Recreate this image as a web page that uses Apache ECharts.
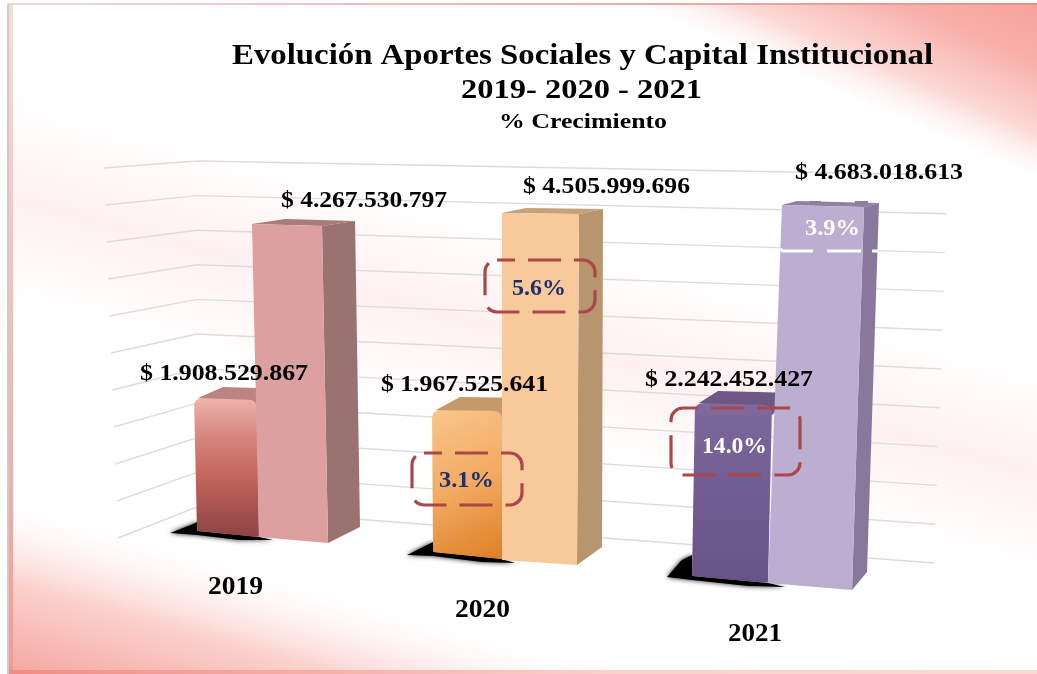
<!DOCTYPE html>
<html>
<head>
<meta charset="utf-8">
<script src="https://cdn.jsdelivr.net/npm/echarts@6/dist/echarts.min.js"></script>
<style>html,body{margin:0;padding:0;background:#fff}#c{width:1037px;height:674px}</style>
</head>
<body>
<div id="c"></div>
<script>
// ---------- data ----------
const years = ['2019', '2020', '2021'];
const frontSeries = [1908529867, 1967525641, 2242452427];
const backSeries = [4267530797, 4505999696, 4683018613];
const frontGrowth = [null, 3.1, 14.0];
const backGrowth = [null, 5.6, 3.9];
const wallTicks = [0, 5e8, 1e9, 1.5e9, 2e9, 2.5e9, 3e9, 3.5e9, 4e9, 4.5e9, 5e9];
const axisMax = 5e9;

// ---------- perspective layout of each bar ----------
const frontGeo = [
  {bx:197,by:531,w:62,ty:398,lean:-3,tw:63,sk:6,tsk:2,d:[29,-11],shH:9,shL:[-27,2],shR:[14,3]},
  {bx:433,by:552,w:69,ty:410,lean:-1,tw:70,sk:7,tsk:1,d:[28,-13],shH:10,shL:[-26,3],shR:[13,4]},
  {bx:692,by:576,w:76,ty:403,lean:3,tw:77,sk:7,tsk:2,d:[23,-12],shH:21,shL:[-25,1],shR:[17,4]}
];
const backGeo = [
  {bx:259,by:537,w:69,ty:224,lean:-7,tw:70,sk:6,tsk:2,d:[33,-5],db:[32,-16]},
  {bx:502,by:560,w:75,ty:213,lean:0,tw:77,sk:5,tsk:1,d:[24,-5],db:[25,-18]},
  {bx:768,by:583,w:84,ty:205,lean:14,tw:82,sk:7,tsk:2,d:[15,-4],db:[15,-18]}
];
const frontFill = [
  new echarts.graphic.LinearGradient(0,0,0,1,[{offset:0,color:'#eeb4ac'},{offset:.1,color:'#e4a39b'},{offset:.25,color:'#d98a81'},{offset:.55,color:'#c4675f'},{offset:1,color:'#8e4343'}]),
  new echarts.graphic.LinearGradient(0,0,1,1,[{offset:0,color:'#f9c68c'},{offset:.5,color:'#f3aa62'},{offset:1,color:'#dc7f24'}]),
  new echarts.graphic.LinearGradient(0,0,0,1,[{offset:0,color:'#82699f'},{offset:.08,color:'#7b6699'},{offset:.5,color:'#715d93'},{offset:1,color:'#675385'}])
];
const frontTop = ['#bb8482', '#c69a68', '#6c5787'];
const backColors = [
  {front:'#dba09f', side:'#9a7270', top:'#a97b79'},
  {front:'#f8c99b', side:'#b8946f', top:'#c6a078'},
  {front:'#bcaed0', side:'#88799c', top:'#8f80a6'}
];
const SERIF = '"Liberation Serif","Times New Roman",serif';

// ---------- helpers ----------
const mctx = document.createElement('canvas').getContext('2d');
function fit(text, size, left, right, cy, color) {
  mctx.font = 'bold ' + size + 'px "Liberation Serif"';
  const natural = mctx.measureText(text).width;
  return {
    type:'text', z:50, silent:true, x:(left+right)/2, y:cy+1.5, scaleX:(right-left)/natural,
    style:{text:text, x:0, y:0, align:'center', verticalAlign:'middle', fontFamily:SERIF,
      fontWeight:'bold', fontSize:size, fill:color||'#000', shadowBlur:1, shadowColor:color==='#fff'?'rgba(255,255,255,.6)':'rgba(20,20,20,.55)'}
  };
}
function money(v){ return '$ ' + String(v).replace(/\B(?=(\d{3})+(?!\d))/g,'.'); }
function pct(v){ return v.toFixed(1) + '%'; }
function roundTop(p, r) {
  const out = [];
  function corner(a,b,c,rad){
    const la=Math.hypot(a[0]-b[0],a[1]-b[1]), lc=Math.hypot(c[0]-b[0],c[1]-b[1]);
    const s=[b[0]+(a[0]-b[0])*rad/la,b[1]+(a[1]-b[1])*rad/la], e=[b[0]+(c[0]-b[0])*rad/lc,b[1]+(c[1]-b[1])*rad/lc];
    for(let i=0;i<=6;i++){const t=i/6,u=1-t;out.push([u*u*s[0]+2*u*t*b[0]+t*t*e[0],u*u*s[1]+2*u*t*b[1]+t*t*e[1]]);}
  }
  corner(p[3],p[0],p[1],r); corner(p[0],p[1],p[2],r); corner(p[1],p[2],p[3],3); corner(p[2],p[3],p[0],3);
  return out;
}

// ---------- grids: one hidden pair of axes per bar plus one for the wall ----------
const grids=[], xAxes=[], yAxes=[], series=[];
function addGrid(left, width, bottomY, height, cat){
  grids.push({left:left, width:width, top:bottomY-height, height:height, containLabel:false, show:false});
  xAxes.push({type:'category', gridIndex:grids.length-1, data:[cat], show:false});
  yAxes.push({type:'value', gridIndex:grids.length-1, min:0, max:axisMax, show:false});
  return grids.length-1;
}

// wall lines
const wallIdx = addGrid(197, 1, 507, 346, 'wall');
series.push({
  type:'custom', xAxisIndex:wallIdx, yAxisIndex:wallIdx, z:1, silent:true,
  data: wallTicks.map(v=>[ 'wall', v ]),
  encode:{x:0,y:1},
  renderItem(params, api){
    const y = api.coord([api.value(0), api.value(1)])[1];
    const f = (y-161)/346;
    return {type:'polyline', shape:{points:[[104+14*f,168+370*f],[197,y],[948-14*f,175+388*f]]},
      style:{stroke:'#dcdcdc', lineWidth:1.4, fill:null}};
  }
});

// front (small, rounded) bars
frontSeries.forEach((v,i)=>{
  const g=frontGeo[i];
  const h=(g.by-g.ty)/v*axisMax;
  const idx=addGrid(g.bx,g.w,g.by,h,years[i]);
  series.push({
    type:'custom', name:years[i]+' a', xAxisIndex:idx, yAxisIndex:idx, z:2, silent:true,
    data:[[years[i],v]], encode:{x:0,y:1},
    renderItem(params, api){
      const top=api.coord([api.value(0),api.value(1)]), base=api.coord([api.value(0),0]);
      const bw=api.size([1,0])[0], bl=[base[0]-bw/2,base[1]], br=[bl[0]+bw,bl[1]+g.sk];
      const tl=[bl[0]+g.lean,top[1]], tr=[tl[0]+g.tw,top[1]+g.tsk];
      const shadow=[[bl[0]+g.shL[0],bl[1]+g.shL[1]],[bl[0]-g.shH*.5,bl[1]-g.shH*.75],[bl[0],bl[1]-g.shH],[bl[0],bl[1]],br,[br[0]+g.shR[0],br[1]+g.shR[1]],[br[0]-20,br[1]+3],[bl[0],bl[1]+4]];
      return {type:'group',children:[
        {type:'polygon',shape:{points:shadow},style:{fill:'#000',shadowBlur:5,shadowColor:'rgba(0,0,0,.9)'}},
        {type:'polygon',shape:{points:[[tl[0]+4,tl[1]],[tl[0]+g.d[0],tl[1]+g.d[1]],[tr[0]+g.d[0],tr[1]+g.d[1]],[tr[0],tr[1]+10]]},style:{fill:frontTop[i]}},
        {type:'polygon',shape:{points:roundTop([tl,tr,br,bl],9)},style:{fill:frontFill[i]}}
      ]};
    }
  });
});

// back (tall, prismatic) bars
backSeries.forEach((v,i)=>{
  const g=backGeo[i], c=backColors[i];
  const h=(g.by-g.ty)/v*axisMax;
  const idx=addGrid(g.bx,g.w,g.by,h,years[i]);
  series.push({
    type:'custom', name:years[i]+' b', xAxisIndex:idx, yAxisIndex:idx, z:3, silent:true,
    data:[[years[i],v]], encode:{x:0,y:1},
    renderItem(params, api){
      const top=api.coord([api.value(0),api.value(1)]), base=api.coord([api.value(0),0]);
      const bw=api.size([1,0])[0], bl=[base[0]-bw/2,base[1]], br=[bl[0]+bw,bl[1]+g.sk];
      const tl=[bl[0]+g.lean,top[1]], tr=[tl[0]+g.tw,top[1]+g.tsk];
      const trb=[tr[0]+g.d[0],tr[1]+g.d[1]], tlb=[tl[0]+g.d[0],tl[1]+g.d[1]], brb=[br[0]+g.db[0],br[1]+g.db[1]];
      return {type:'group',children:[
        {type:'polygon',shape:{points:[tl,tlb,trb,tr]},style:{fill:c.top}},
        {type:'polygon',shape:{points:[tr,trb,brb,br]},style:{fill:c.side}},
        {type:'polygon',shape:{points:[tl,tr,br,bl]},style:{fill:c.front}}
      ]};
    }
  });
});

// ---------- background and overlay ----------
const lin=(x,y,x2,y2,stops)=>new echarts.graphic.LinearGradient(x,y,x2,y2,stops,true);
const bg=[
  {type:'rect',z:-5,silent:true,shape:{x:8,y:4,width:1029,height:667},style:{fill:'#fff'}},
  {type:'polygon',z:-4,silent:true,shape:{points:[[8,95],[1037,370],[1037,575],[8,300]]},
    style:{fill:lin(8,300,59,109,[{offset:0,color:'rgba(255,236,236,0)'},{offset:.5,color:'rgba(255,238,238,.85)'},{offset:1,color:'rgba(255,236,236,0)'}])}},
  {type:'polygon',z:-3,silent:true,shape:{points:[[8,488],[8,671],[650,671]]},
    style:{fill:lin(8,671,56,502,[{offset:0,color:'#f6a8a2'},{offset:.5,color:'#fbd2ce'},{offset:1,color:'rgba(255,255,255,0)'}])}},
  {type:'polygon',z:-3,silent:true,shape:{points:[[640,4],[1037,4],[1037,175]]},
    style:{fill:lin(1037,4,969,161,[{offset:0,color:'#f6a29b'},{offset:.3,color:'#f8aea8'},{offset:.7,color:'#fcdad7'},{offset:1,color:'rgba(255,255,255,0)'}])}},
  {type:'rect',z:-2,silent:true,shape:{x:0,y:0,width:7,height:674},style:{fill:'#fff'}},
  {type:'rect',z:-2,silent:true,shape:{x:7,y:4,width:2,height:670},style:{fill:'#cfc9c9'}},
  {type:'rect',z:-2,silent:true,shape:{x:9,y:4,width:4,height:667},style:{fill:lin(0,4,0,671,[{offset:0,color:'#f6dcdc'},{offset:1,color:'#f29a92'}])}},
  {type:'rect',z:-2,silent:true,shape:{x:7,y:3,width:1030,height:2},style:{fill:lin(7,0,1037,0,[{offset:0,color:'#efd9d9'},{offset:1,color:'#e9908a'}])}},
  {type:'rect',z:-2,silent:true,shape:{x:9,y:670,width:1028,height:4},style:{fill:lin(9,0,1037,0,[{offset:0,color:'#ef8c83'},{offset:.6,color:'#fbd3cd'},{offset:1,color:'#fbd9d3'}])}}
];
const box=(x,y,w,h,off)=>({type:'rect',z:40,silent:true,shape:{x:x,y:y,width:w,height:h,r:12},
  style:{fill:null,stroke:'#a94749',lineWidth:3.2,lineDash:[33,13],lineDashOffset:off}});
const overlay=[
  fit('Evolución Aportes Sociales y Capital Institucional',30,232,933,55),
  fit('2019- 2020 - 2021',28,461,702,89),
  fit('% Crecimiento',21,499,667,121),
  fit(money(backSeries[0]),23,281,447,200),
  fit(money(frontSeries[0]),23,140,308,373),
  fit(money(backSeries[1]),23,523,690,186),
  fit(money(frontSeries[1]),23,381,548,384),
  fit(money(backSeries[2]),23,795,963,172),
  fit(money(frontSeries[2]),23,645,813,379),
  fit(years[0],26,208,263,586),
  fit(years[1],26,455,510,609),
  fit(years[2],26,728,782,633),
  box(485,260,110,52,15), box(412,453,110,52,15), box(671,408,129,67,18),
  fit(pct(backGrowth[1]),23,512,566,288,'#1f2f6e'),
  fit(pct(frontGrowth[1]),23,439,494,480,'#1f2f6e'),
  fit(pct(frontGrowth[2]),23,702,767,446,'#fff'),
  fit(pct(backGrowth[2]),23,805,860,228,'#fff'),
  {type:'polyline',z:40,silent:true,shape:{points:[[780,249],[783,251],[813,251]]},style:{fill:null,stroke:'#fff',lineWidth:3}},
  {type:'line',z:40,silent:true,shape:{x1:827,y1:251,x2:861,y2:251},style:{stroke:'#fff',lineWidth:3}},
  {type:'line',z:40,silent:true,shape:{x1:872,y1:251,x2:878,y2:251},style:{stroke:'#fff',lineWidth:3}},
  {type:'line',z:40,silent:true,shape:{x1:809,y1:202.5,x2:821,y2:202.5},style:{stroke:'#8d7ea3',lineWidth:3}},
  {type:'line',z:40,silent:true,shape:{x1:855,y1:202.5,x2:868,y2:202.5},style:{stroke:'#8d7ea3',lineWidth:3}}
];

const chart = echarts.init(document.getElementById('c'), null, {renderer:'canvas'});
chart.setOption({
  animation:false, backgroundColor:'#fff',
  grid:grids, xAxis:xAxes, yAxis:yAxes, series:series, tooltip:{show:false},
  graphic:{elements:bg.concat(overlay)}
});
</script>
</body>
</html>
